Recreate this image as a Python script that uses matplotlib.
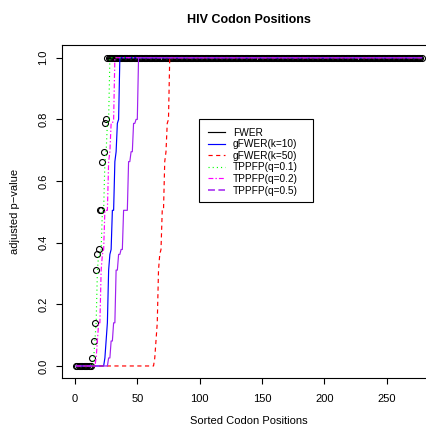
import matplotlib
matplotlib.use("Agg")
import matplotlib.pyplot as plt
from matplotlib.lines import Line2D
from matplotlib.patches import Rectangle

plt.rcParams['font.family'] = ['Liberation Sans', 'DejaVu Sans']
plt.rcParams['lines.scale_dashes'] = False

n = 278  # number of sorted codon positions

# FWER adjusted p-values (rising part), then 1.0 to the end
fwer_rise = [0.0] * 13 + [0.026, 0.081, 0.14, 0.311, 0.362, 0.378, 0.505, 0.505,
                          0.663, 0.695, 0.787, 0.80]
# gFWER(k=10): zero for first 23, then rising part
gfwer10_rise = [0.0] * 23 + [0.026, 0.081, 0.14, 0.311, 0.362, 0.378, 0.505, 0.505,
                             0.663, 0.695, 0.787, 0.80]
# gFWER(k=50)
gfwer50_rise = [0.0] * 63 + [0.026, 0.081, 0.14, 0.311, 0.362, 0.378, 0.505, 0.505,
                             0.663, 0.695, 0.787, 0.80]
# TPPFP(q=0.1)
tppfp01_rise = [0.0] * 14 + [0.026, 0.081, 0.14, 0.311, 0.362, 0.362, 0.378, 0.505,
                             0.505, 0.663, 0.695, 0.787, 0.80]
# TPPFP(q=0.2)
tppfp02_rise = [0.0] * 16 + [0.026, 0.081, 0.14, 0.14, 0.311, 0.362, 0.378, 0.505,
                             0.505, 0.505, 0.663, 0.695, 0.787, 0.787, 0.80]
# TPPFP(q=0.5)
tppfp05_rise = [0.0] * 26 + [0.026, 0.026, 0.081, 0.081, 0.14, 0.14, 0.311, 0.311,
                             0.362, 0.362, 0.378, 0.378, 0.505, 0.505, 0.505, 0.505,
                             0.663, 0.663, 0.695, 0.695, 0.787, 0.787, 0.80, 0.80]


def pad_to_n(vals):
    return vals + [1.0] * (n - len(vals))


fwer = pad_to_n(fwer_rise)
gfwer10 = pad_to_n(gfwer10_rise)
gfwer50 = pad_to_n(gfwer50_rise)
tppfp01 = pad_to_n(tppfp01_rise)
tppfp02 = pad_to_n(tppfp02_rise)
tppfp05 = pad_to_n(tppfp05_rise)
pos = list(range(1, n + 1))

labels = ["FWER", "gFWER(k=10)", "gFWER(k=50)", "TPPFP(q=0.1)", "TPPFP(q=0.2)", "TPPFP(q=0.5)"]

W, H = 427, 430
fig = plt.figure(figsize=(W / 100, H / 100), dpi=100)
ax = fig.add_axes([62.4 / W, 1 - 378.3 / H, (435.4 - 62.4) / W, (378.3 - 45.4) / H])

lw = 0.85
ax.plot(pos, fwer, 'o', mfc='none', mec='black', ms=4.3, mew=0.8, zorder=2)
ax.plot(pos, gfwer10, color='#0000FF', lw=lw, zorder=3)
ax.plot(pos, gfwer50, color='#FF0000', lw=lw, dashes=(3, 2.5), zorder=3)
ax.plot(pos, tppfp01, color='#00FF00', lw=lw, dashes=(0.8, 2.2), zorder=3)
ax.plot(pos, tppfp02, color='#FF00FF', lw=lw, dashes=(3.5, 1.5, 1, 1.5), zorder=3)
ax.plot(pos, tppfp05, color='#A020F0', lw=lw, zorder=3)

ax.set_xlim(1 - 0.04 * (n - 1), n + 0.04 * (n - 1))
ax.set_ylim(-0.04, 1.04)
ax.set_xticks([0, 50, 100, 150, 200, 250])
ax.set_yticks([0.0, 0.2, 0.4, 0.6, 0.8, 1.0])
ax.set_yticklabels(["0.0", "0.2", "0.4", "0.6", "0.8", "1.0"], rotation=90, va='center')
ax.tick_params(labelsize=8, length=4, width=0.8, pad=6)
ax.tick_params(axis='x', pad=7)
for s in ax.spines.values():
    s.set_linewidth(0.8)

ax.set_title("HIV Codon Positions", fontsize=9, fontweight='bold', pad=15.8)
fig.text(248.9 / W, 1 - 421 / H, "Sorted Codon Positions", fontsize=8, ha='center', va='center')
fig.text(15 / W, 1 - 211.9 / H, "adjusted p\u2212value", fontsize=8, ha='center', va='center',
         rotation=90)

handles = [
    Line2D([], [], color='black', lw=lw),
    Line2D([], [], color='#0000FF', lw=lw),
    Line2D([], [], color='#FF0000', lw=lw, dashes=(3, 2.5)),
    Line2D([], [], color='#00FF00', lw=lw, dashes=(0.8, 2.2)),
    Line2D([], [], color='#FF00FF', lw=lw, dashes=(3.5, 1.5, 1, 1.5)),
    Line2D([], [], color='#A020F0', lw=lw * 1.3, dashes=(5, 2.5)),
]
leg = ax.legend(handles, labels, loc='upper left', bbox_to_anchor=(208 / W, 1 - 127.9 / H),
                bbox_transform=fig.transFigure, borderaxespad=0, fontsize=7.3,
                frameon=False, handlelength=1.7, handletextpad=0.75,
                labelspacing=0.15, borderpad=0)
leg.set_zorder(6)

# legend box as drawn by the reference (wider on the right than the text)
box = Rectangle((199.3 / W, 1 - 201.7 / H), (313 - 199.3) / W, (201.7 - 119.3) / H,
                transform=fig.transFigure, facecolor='white', edgecolor='black',
                lw=0.8, zorder=5)
ax.add_artist(box)

fig.savefig("out.png", dpi=100)
